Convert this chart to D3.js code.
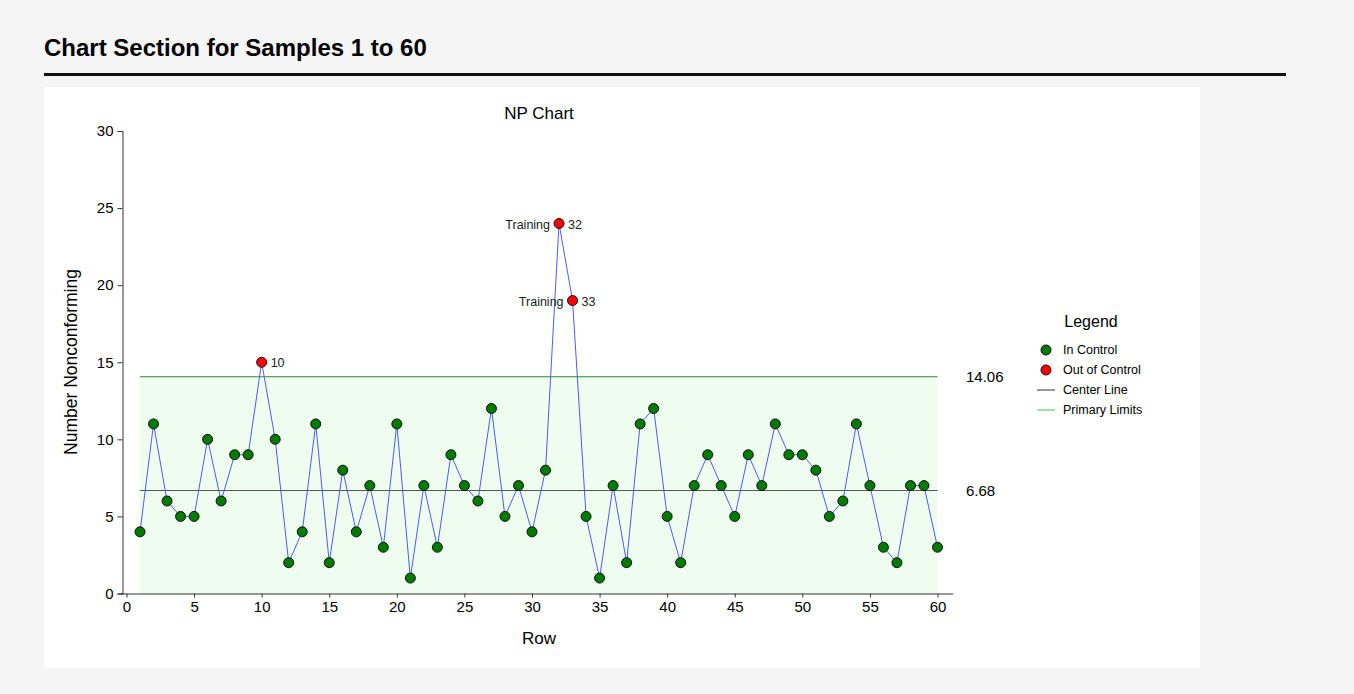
<!DOCTYPE html>
<html>
  <head>
    <script src="https://cdnjs.cloudflare.com/ajax/libs/d3/7.8.5/d3.min.js"></script>
    <style>
      body { margin: 0; background: #f5f5f5; font-family: "Liberation Sans", Arial, sans-serif; }
      svg text { font-family: "Liberation Sans", Arial, sans-serif; fill: #000; }
      .axis path, .axis line { stroke: #333; }
      .axis text { font-size: 15px; }
    </style>
  </head>
  <body>
    <svg id="chart" width="1354" height="694"></svg>
    <script>
      // sample values (row 1..60)
      var rows = d3.range(1, 61);
      var counts = [4, 11, 6, 5, 5, 10, 6, 9, 9, 15, 10, 2, 4, 11, 2, 8, 4, 7, 3, 11,
                    1, 7, 3, 9, 7, 6, 12, 5, 7, 4, 8, 24, 19, 5, 1, 7, 2, 11, 12, 5,
                    2, 7, 9, 7, 5, 9, 7, 11, 9, 9, 8, 5, 6, 11, 7, 3, 2, 7, 7, 3];
      var centerLine = 6.68;
      var upperLimit = 14.06;
      var lowerLimit = 0;
      var outOfControl = [10, 32, 33];
      var trainingRows = [32, 33];
      var xTicks = [0, 5, 10, 15, 20, 25, 30, 35, 40, 45, 50, 55, 60];
      var yTicks = [0, 5, 10, 15, 20, 25, 30];
      var legendItems = ["In Control", "Out of Control", "Center Line", "Primary Limits"];

      var svg = d3.select("#chart");

      // page title and rule
      svg.append("text").attr("x", 44).attr("y", 56)
        .style("font-size", "24px").style("font-weight", "bold")
        .text("Chart Section for Samples 1 to 60");
      svg.append("rect").attr("x", 44).attr("y", 73).attr("width", 1242).attr("height", 3).attr("fill", "#111");

      // white panel
      svg.append("rect").attr("x", 44).attr("y", 87).attr("width", 1156).attr("height", 581).attr("fill", "#fff");

      var x = d3.scaleLinear().domain([0, 60]).range([126.5, 937.5]);
      var y = d3.scaleLinear().domain([0, 30]).range([593.5, 131]);

      // control band
      svg.append("rect")
        .attr("x", x(1)).attr("y", y(upperLimit))
        .attr("width", x(60) - x(1)).attr("height", y(lowerLimit) - y(upperLimit))
        .attr("fill", "#effdee");
      svg.append("line")
        .attr("x1", x(1)).attr("x2", x(60)).attr("y1", y(upperLimit)).attr("y2", y(upperLimit))
        .attr("stroke", "#2e8b2e").attr("stroke-width", 1);
      svg.append("line")
        .attr("x1", x(1)).attr("x2", x(60)).attr("y1", y(centerLine)).attr("y2", y(centerLine))
        .attr("stroke", "#555").attr("stroke-width", 1);

      svg.append("text").attr("x", 966).attr("y", y(upperLimit) + 5).style("font-size", "15px").text(upperLimit.toFixed(2));
      svg.append("text").attr("x", 966).attr("y", y(centerLine) + 5).style("font-size", "15px").text(centerLine.toFixed(2));

      // axes
      var xAxis = svg.append("g").attr("class", "axis")
        .attr("transform", "translate(0," + 593.5 + ")")
        .call(d3.axisBottom(x).tickValues(xTicks).tickSizeOuter(0).tickSize(4).tickPadding(4));
      xAxis.select(".domain").attr("d", "M121,0.5H953");

      var yAxis = svg.append("g").attr("class", "axis")
        .attr("transform", "translate(" + 122.5 + ",0)")
        .call(d3.axisLeft(y).tickValues(yTicks).tickSizeOuter(0).tickSize(5).tickPadding(4));

      svg.append("text").attr("x", 539).attr("y", 644).attr("text-anchor", "middle")
        .style("font-size", "17px").text("Row");
      svg.append("text").attr("transform", "translate(77,362) rotate(-90)").attr("text-anchor", "middle")
        .style("font-size", "17.5px").text("Number Nonconforming");
      svg.append("text").attr("x", 539).attr("y", 119).attr("text-anchor", "middle")
        .style("font-size", "17px").text("NP Chart");

      // data line and points
      var pts = rows.map((r, i) => ({ row: r, v: counts[i] }));
      svg.append("path").datum(pts)
        .attr("d", d3.line().x(d => x(d.row)).y(d => y(d.v)))
        .attr("fill", "none").attr("stroke", "#4a5cff").attr("stroke-width", 1);

      svg.selectAll("circle.pt").data(pts).enter().append("circle")
        .attr("class", "pt")
        .attr("cx", d => x(d.row)).attr("cy", d => y(d.v)).attr("r", 5)
        .attr("fill", d => outOfControl.indexOf(d.row) > -1 ? "#ff0000" : "#007a00")
        .attr("stroke", "#111").attr("stroke-width", 1);

      var ooc = pts.filter(d => outOfControl.indexOf(d.row) > -1);
      svg.selectAll("text.num").data(ooc).enter().append("text")
        .attr("x", d => x(d.row) + 9).attr("y", d => y(d.v) + 5)
        .style("font-size", "12.5px").style("fill", "#222").text(d => d.row);
      svg.selectAll("text.train").data(ooc.filter(d => trainingRows.indexOf(d.row) > -1)).enter().append("text")
        .attr("x", d => x(d.row) - 9).attr("y", d => y(d.v) + 5).attr("text-anchor", "end")
        .style("font-size", "12.5px").style("fill", "#222").text("Training");

      // legend
      svg.append("text").attr("x", 1091).attr("y", 327).attr("text-anchor", "middle")
        .style("font-size", "16px").text("Legend");
      var lg = svg.selectAll("g.leg").data(legendItems).enter().append("g")
        .attr("transform", (d, i) => "translate(1046," + (350 + i * 20) + ")");
      lg.each(function (d, i) {
        var g = d3.select(this);
        if (i < 2) {
          g.append("circle").attr("r", 5).attr("fill", i == 0 ? "#007a00" : "#ff0000").attr("stroke", "#111");
        } else {
          g.append("line").attr("x1", -9).attr("x2", 9)
            .attr("stroke", i == 2 ? "#333" : "#4cbf4c").attr("stroke-width", 1);
        }
        g.append("text").attr("x", 17).attr("y", 4).style("font-size", "12.5px").text(d);
      });
    </script>
  </body>
</html>
